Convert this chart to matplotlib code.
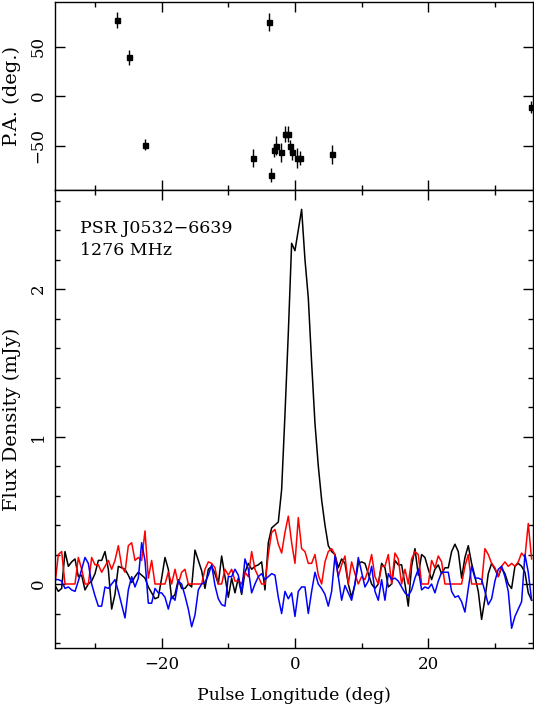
import numpy as np
import matplotlib
matplotlib.use('Agg')
import matplotlib.pyplot as plt
from matplotlib.ticker import MultipleLocator

plt.rcParams['font.family'] = ['DejaVu Serif']

# pulse longitude grid (deg), 0.5 deg bins
lon = np.arange(-36.0, 36.0, 0.5)

# total intensity (mJy)
stokesI = [
    -0.01, -0.05, -0.03, 0.22, 0.12, 0.15, 0.17, 0.05, 0.06, -0.04, 0.0, 0.02, 0.07,
    0.16, 0.16, 0.22, 0.10, -0.17, -0.07, 0.12, 0.11, 0.10, 0.06, 0.01, 0.05,
    0.08, 0.06, 0.04, -0.02, -0.06, -0.10, -0.09, 0.04, 0.18, 0.10, -0.10, -0.07,
    0.03, -0.03, -0.03, 0.0, -0.02, 0.23, 0.16, 0.09, -0.03, 0.10, 0.12, 0.07,
    0.0, 0.19, 0.05, -0.09, 0.04, -0.06, 0.04, -0.07, 0.08, 0.14, 0.10, 0.12, 0.13, 0.15, -0.04,
    0.28, 0.38, 0.40, 0.42, 0.64, 1.15, 1.70, 2.31, 2.26, 2.40, 2.54, 2.20, 1.94, 1.50,
    1.09, 0.80, 0.57, 0.40, 0.26,
    0.22, 0.20, 0.11, 0.17, 0.14, 0.0, -0.09, 0.0, 0.14, 0.15, 0.14, 0.07, 0.0, -0.03,
    0.0, 0.14, 0.11, -0.02, 0.0, 0.16, 0.13, 0.13, 0.0, -0.15, 0.12, 0.24, 0.06, 0.20,
    0.18, 0.10, 0.03, 0.10, 0.13, 0.07, 0.11, 0.11, 0.22, 0.27, 0.22, 0.04, 0.18, 0.26,
    0.14, 0.05, -0.05, -0.24, -0.10, 0.07, 0.14, 0.10, 0.05, 0.11, 0.07, 0.0, -0.03,
    0.12, 0.14, 0.12, 0.08, -0.06, -0.11,
]

# linear polarisation (mJy)
linear = [
    0.0, 0.20, 0.22, 0.0, 0.0, 0.0, 0.0, 0.18, 0.10, 0.0, 0.0, 0.18, 0.13, 0.13, 0.08,
    0.12, 0.16, 0.10, 0.16, 0.26, 0.12, 0.08, 0.26, 0.28, 0.16,
    0.18, 0.16, 0.36, 0.04, 0.16, 0.0, 0.0, 0.0, 0.0, 0.08, 0.0, 0.10, 0.0, 0.08, 0.10,
    0.0, 0.0, 0.0, 0.0, 0.0, 0.10, 0.15, 0.14, 0.11,
    0.0, 0.0, 0.10, 0.06, 0.10, 0.02, 0.02, 0.0, 0.08, 0.05, 0.22, 0.10, 0.05, 0.0, 0.0,
    0.20, 0.35, 0.37, 0.27, 0.21, 0.35, 0.46, 0.28, 0.14, 0.45, 0.24, 0.22, 0.14, 0.14,
    0.20, 0.06, 0.0, 0.15, 0.22,
    0.24, 0.20, 0.05, 0.13, 0.19, 0.0, 0.15, 0.07, 0.0, 0.05, 0.03, 0.10, 0.20, 0.05,
    0.0, 0.12, 0.12, 0.20, 0.0, 0.21, 0.17, 0.0, 0.10, 0.0, 0.17, 0.22, 0.20, 0.0, 0.0,
    0.0, 0.16, 0.11, 0.19, 0.15, 0.0, 0.0, 0.0, 0.0, 0.0, 0.0, 0.12, 0.20, 0.0, 0.0,
    0.0, 0.0, 0.24, 0.20, 0.14, 0.11, 0.05, 0.12, 0.15, 0.12, 0.14, 0.12, 0.15, 0.21,
    0.18, 0.41, 0.17,
]

# circular polarisation (mJy)
circular = [
    0.03, 0.03, 0.02, -0.03, -0.02, -0.04, -0.05, 0.02, 0.10, 0.18, 0.14, 0.0, -0.08,
    -0.15, -0.15, -0.02, -0.03, 0.0, 0.03, -0.05, -0.14, -0.23, -0.04, 0.05, -0.02,
    0.04, 0.28, 0.16, -0.13, -0.13, -0.03, -0.06, -0.06, -0.09, -0.17, -0.08, -0.11,
    0.02, 0.0, -0.08, -0.17, -0.29, -0.21, -0.04, 0.0, 0.01, 0.06, 0.13, -0.01,
    -0.10, -0.14, -0.15, 0.05, 0.05, 0.10, 0.06, -0.06, 0.17, 0.10, -0.06, 0.0, 0.05, 0.07, 0.03,
    0.05, 0.07, 0.06, -0.09, -0.20, -0.05, -0.10, -0.06, -0.22, -0.05, -0.02, -0.02,
    -0.20, -0.05, 0.08, 0.0, -0.03, -0.07, -0.15,
    -0.05, 0.19, 0.05, -0.11, -0.01, -0.06, -0.11, 0.0, 0.18, 0.08, -0.02, 0.02, 0.12, -0.05,
    -0.11, 0.03, -0.11, 0.07, 0.03, 0.04, 0.02, -0.02, -0.06, -0.08, -0.04, 0.04, 0.10,
    -0.04, -0.02, -0.03, 0.0, -0.06, 0.02, 0.08, 0.08, 0.08, -0.05, -0.09, -0.08, -0.12,
    -0.19, -0.03, 0.12, 0.04, 0.04, 0.03, -0.05, -0.14, -0.10, 0.02, 0.10, 0.12, 0.05,
    -0.05, -0.30, -0.22, -0.17, -0.12, 0.20, 0.08, -0.11,
]

# position angle points
paLon = [-26.7, -24.9, -22.5, -6.3, -3.85, -3.55, -3.2, -2.9, -2.15, -1.55, -1.05,
         -0.7, -0.4, 0.3, 0.7, 5.6, 35.4]
paVal = [77, 39, -49, -63, 75, -80, -55, -50, -57, -38, -38, -51, -57, -63, -63, -59, -11]
paErr = [8, 8, 6, 9, 9, 7, 7, 10, 10, 8, 8, 7, 8, 10, 7, 10, 6]

psrName = 'PSR J0532\u22126639'
freqText = '1276 MHz'

xmin, xmax = -36.0, 35.7

fig = plt.figure(figsize=(5.34, 7.08), dpi=100)
axPA = fig.add_axes([0.103, 0.7316, 0.895, 0.2655])
axI = fig.add_axes([0.103, 0.0847, 0.895, 0.6469])


def styleAxis(ax):
    ax.tick_params(which='both', direction='in', top=True, right=True,
                   labelsize=12, width=1.0)
    ax.tick_params(which='major', length=7)
    ax.tick_params(which='minor', length=3.5)
    ax.tick_params(axis='y', labelrotation=90, pad=6)
    for lab in ax.get_yticklabels():
        lab.set_verticalalignment('center')
    for sp in ax.spines.values():
        sp.set_linewidth(1.0)


# P.A. panel
axPA.errorbar(paLon, paVal, yerr=paErr, fmt='s', color='black', ms=3.6,
              elinewidth=1.0, capsize=0)
axPA.set_xlim(xmin, xmax)
axPA.set_ylim(-95, 95)
axPA.xaxis.set_major_locator(MultipleLocator(20))
axPA.xaxis.set_minor_locator(MultipleLocator(10))
axPA.yaxis.set_major_locator(MultipleLocator(50))
axPA.tick_params(axis='x', labelbottom=False)
axPA.set_ylabel('P.A. (deg.)', fontsize=14)
styleAxis(axPA)

# flux panel
axI.plot(lon, stokesI, color='black', lw=1.1)
axI.plot(lon, linear, color='#ff0000', lw=1.1)
axI.plot(lon, circular, color='#0000ff', lw=1.1)
axI.set_xlim(xmin, xmax)
axI.set_ylim(-0.434, 2.671)
axI.xaxis.set_major_locator(MultipleLocator(20))
axI.xaxis.set_minor_locator(MultipleLocator(10))
axI.yaxis.set_major_locator(MultipleLocator(1))
axI.yaxis.set_minor_locator(MultipleLocator(0.2))
axI.tick_params(axis='x', pad=6)
axI.set_xlabel('Pulse Longitude (deg)', fontsize=12.5, labelpad=10)
axI.set_ylabel('Flux Density (mJy)', fontsize=14)
styleAxis(axI)

axI.text(0.052, 0.917, psrName, transform=axI.transAxes, fontsize=12.5,
         ha='left', va='center')
axI.text(0.052, 0.869, freqText, transform=axI.transAxes, fontsize=12.5,
         ha='left', va='center')

# line up the two y labels
axPA.yaxis.set_label_coords(-0.072, 0.5)
axI.yaxis.set_label_coords(-0.072, 0.5)

fig.savefig('out.png', dpi=100)
